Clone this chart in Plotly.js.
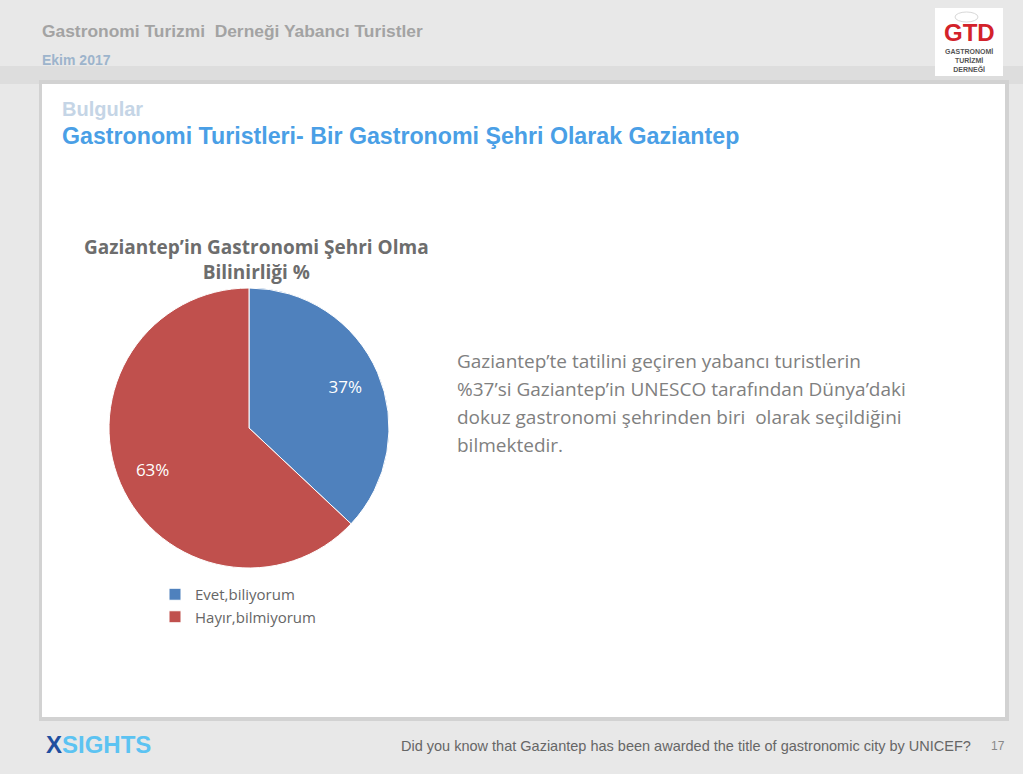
<!DOCTYPE html>
<html>
<head>
<meta charset="utf-8">
<script src="https://cdn.plot.ly/plotly-3.0.1.min.js"></script>
<style>
html,body{margin:0;padding:0;background:#e8e8e8;}
#chart{width:1023px;height:774px;}
</style>
</head>
<body>
<div id="chart"></div>
<script>
// ---- data ----
const categories = ["Evet,biliyorum", "Hayır,bilmiyorum"];
const values = [37, 63];
const sliceColors = ["#4f81bd", "#c0504d"];

const chartTitle = "Gaziantep’in Gastronomi Şehri Olma<br>Bilinirliği %";
const headerTitle = "Gastronomi Turizmi  Derneği Yabancı Turistler";
const headerDate = "Ekim 2017";
const sectionLabel = "Bulgular";
const slideTitle = "Gastronomi Turistleri- Bir Gastronomi Şehri Olarak Gaziantep";
const bodyLines = [
  "Gaziantep’te tatilini geçiren yabancı turistlerin",
  "%37’si Gaziantep’in UNESCO tarafından Dünya’daki",
  "dokuz gastronomi şehrinden biri  olarak seçildiğini",
  "bilmektedir."
];
const footerText = "Did you know that Gaziantep has been awarded the title of gastronomic city by UNICEF?";
const pageNumber = "17";

// ---- layout helpers (pixel -> paper) ----
const W = 1023, H = 774;
const px = x => x / W;
const py = y => 1 - y / H;

function ann(text, x, y, opts) {
  return Object.assign({
    text: text, xref: "paper", yref: "paper", x: px(x), y: py(y),
    showarrow: false, xanchor: "left", yanchor: "middle"
  }, opts);
}

const bodyFont = {family: "Open Sans, Noto Sans", size: 19, color: "#808080"};

const annotations = [
  ann(headerTitle, 40, 31, {font: {family: "Liberation Sans, Arial", size: 17.4, color: "#a3a3a3", weight: "bold"}}),
  ann(headerDate, 40, 60, {font: {family: "Liberation Sans, Arial", size: 14, color: "#9db4cc", weight: "bold"}}),
  ann(sectionLabel, 60, 109, {font: {family: "Liberation Sans, Arial", size: 20, color: "#c5d5e6", weight: "bold"}}),
  ann(slideTitle, 60, 136, {font: {family: "Liberation Sans, Arial", size: 23.2, color: "#4a9fe6", weight: "bold"}}),
  ann(chartTitle, 256, 259, {xanchor: "center", align: "center",
    font: {family: "Open Sans, Noto Sans", size: 19, color: "#6d6d6d", weight: "bold"}}),
  // logo
  ann("GTD", 969, 33, {xanchor: "center", font: {family: "Liberation Sans, Arial", size: 24, color: "#d3222a", weight: "bold"}}),
  ann("GASTRONOMİ<br>TURİZMİ<br>DERNEĞİ", 969, 61, {xanchor: "center", align: "center",
    font: {family: "Liberation Sans Narrow, Liberation Sans", size: 7, color: "#555555", weight: "bold"}}),
  // footer
  ann("<span style='color:#1f4fa0'>X</span><span style='color:#5cc3f2'>SIGHTS</span>", 44, 744,
    {font: {family: "Liberation Sans Narrow, Liberation Sans", size: 24, weight: "bold"}}),
  ann(footerText, 973, 746, {xanchor: "right",
    font: {family: "Liberation Sans Narrow, Liberation Sans", size: 14.5, color: "#666666"}}),
  ann(pageNumber, 998, 746, {xanchor: "center",
    font: {family: "Liberation Sans Narrow, Liberation Sans", size: 12, color: "#888888"}})
];
bodyLines.forEach((line, i) => annotations.push(ann(line, 455, 361 + 28 * i, {font: bodyFont})));

const shapes = [
  // header shading
  {type: "rect", xref: "paper", yref: "paper", x0: 0, x1: 1, y0: py(84), y1: py(66), fillcolor: "#dddddd", line: {width: 0}, layer: "below"},
  // panel shadow
  {type: "rect", xref: "paper", yref: "paper", x0: px(39), x1: px(1009), y0: py(721), y1: py(80), fillcolor: "#d2d2d2", line: {width: 0}, layer: "below"},
  // white panel
  {type: "rect", xref: "paper", yref: "paper", x0: px(42), x1: px(1005), y0: py(717), y1: py(84), fillcolor: "#ffffff", line: {width: 0}, layer: "below"},
  // logo box
  {type: "rect", xref: "paper", yref: "paper", x0: px(935), x1: px(1003), y0: py(76), y1: py(8), fillcolor: "#ffffff", line: {width: 0}, layer: "below"},
  // chef hat outline
  {type: "circle", xref: "paper", yref: "paper", x0: px(955), x1: px(978), y0: py(22), y1: py(12), fillcolor: "rgba(0,0,0,0)", line: {width: 1, color: "#d8d8d8"}}
];

const pieDomain = {x: [px(109), px(389)], y: [py(568), py(288)]};

// main pie (slices + legend)
const trace = {
  type: "pie",
  labels: categories,
  values: values,
  marker: {colors: sliceColors, line: {color: "#ffffff", width: 1}},
  sort: false,
  direction: "clockwise",
  rotation: 0,
  textinfo: "none",
  domain: pieDomain,
  hoverinfo: "label+percent"
};

// transparent ring carrying the percentage labels further out, like the original
const labelTrace = {
  type: "pie",
  labels: categories,
  values: values,
  hole: 0.5,
  marker: {colors: ["rgba(0,0,0,0)", "rgba(0,0,0,0)"], line: {width: 0}},
  sort: false,
  direction: "clockwise",
  rotation: 0,
  texttemplate: "%{value}%",
  textposition: "inside",
  insidetextorientation: "horizontal",
  textfont: {family: "Open Sans, Noto Sans", size: 17, color: "#ffffff"},
  domain: pieDomain,
  showlegend: false,
  hoverinfo: "skip"
};

const layout = {
  width: W, height: H,
  margin: {l: 0, r: 0, t: 0, b: 0},
  paper_bgcolor: "#e8e8e8",
  plot_bgcolor: "rgba(0,0,0,0)",
  showlegend: true,
  legend: {
    x: px(155), y: py(578), xanchor: "left", yanchor: "top",
    bgcolor: "rgba(0,0,0,0)",
    font: {family: "Open Sans, Noto Sans", size: 15, color: "#666666"},
    itemwidth: 30
  },
  annotations: annotations,
  shapes: shapes
};

Plotly.newPlot("chart", [trace, labelTrace], layout, {displayModeBar: false, staticPlot: true});
</script>
</body>
</html>
